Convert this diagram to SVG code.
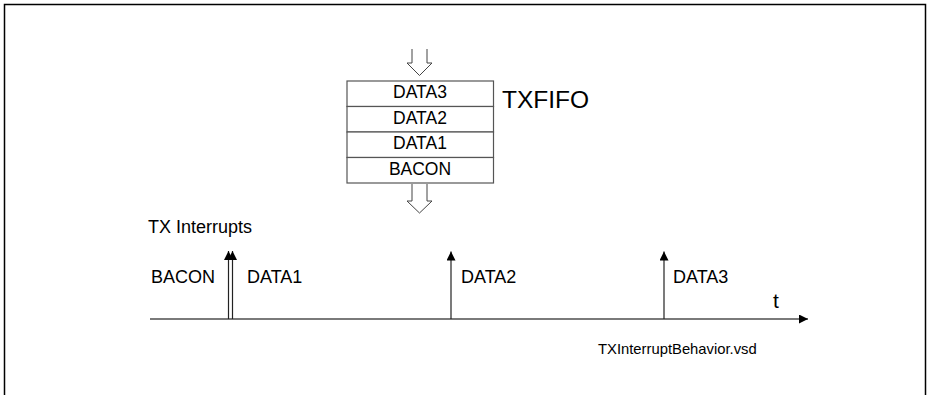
<svg xmlns="http://www.w3.org/2000/svg" width="927" height="395" viewBox="0 0 927 395">
<style>
text{font-family:"Liberation Sans",Arial,sans-serif;fill:#000}
.c{text-anchor:middle;font-size:17.5px}
.l{font-size:18px}
.blk{fill:none;stroke:#444;stroke-width:1}
.row{fill:#fff;stroke:#555;stroke-width:1.2}
.ax{stroke:#7a7a7a;stroke-width:2;fill:none}
.ir{stroke:#222;stroke-width:1.2;fill:none}
</style>
<defs>
<marker id="ah" viewBox="0 0 10 10" refX="10" refY="5" markerWidth="10" markerHeight="9" markerUnits="userSpaceOnUse" orient="auto"><path d="M0,0L10,5L0,10z" fill="#000"/></marker>
<marker id="ah2" viewBox="0 0 10 10" refX="10" refY="5" markerWidth="12" markerHeight="9" markerUnits="userSpaceOnUse" orient="auto"><path d="M0,0L10,5L0,10z" fill="#000"/></marker>
</defs>
<path d="M4.5,395V4.5H925.5V395" fill="none" stroke="#000" stroke-width="1.5"/>
<g id="txfifo">
<rect class="row" x="347" y="81" width="146.5" height="25.5"/>
<rect class="row" x="347" y="106.5" width="146.5" height="25.5"/>
<rect class="row" x="347" y="132" width="146.5" height="25.5"/>
<rect class="row" x="347" y="157.5" width="146.5" height="25.5"/>
<text class="c" x="420" y="98">DATA3</text>
<text class="c" x="420" y="123.5">DATA2</text>
<text class="c" x="420" y="149">DATA1</text>
<text class="c" x="420" y="175">BACON</text>
<text x="502" y="108" font-size="24.5">TXFIFO</text>
</g>
<g id="in-arrow"><path class="blk" d="M412,49V63H407L419.5,75.5L432,63H427V49"/></g>
<g id="out-arrow"><path class="blk" d="M412,184V201H407L419.5,213L432,201H427V184"/></g>
<g id="labels">
<text class="l" x="148" y="233">TX Interrupts</text>
<text class="l" x="151" y="283">BACON</text>
<text class="l" x="247" y="283">DATA1</text>
<text class="l" x="461" y="283">DATA2</text>
<text class="l" x="673" y="283">DATA3</text>
<text x="773" y="308" font-size="21">t</text>
<text x="598" y="354" font-size="14.8">TXInterruptBehavior.vsd</text>
</g>
<g id="connectors">
<line class="ax" x1="150" y1="319" x2="808" y2="319" marker-end="url(#ah2)"/>
<line class="ir" x1="228.5" y1="319" x2="228.5" y2="251" marker-end="url(#ah)"/>
<line class="ir" x1="232.5" y1="319" x2="232.5" y2="251" marker-end="url(#ah)"/>
<line class="ir" x1="451" y1="319" x2="451" y2="251.5" marker-end="url(#ah)"/>
<line class="ir" x1="664" y1="319" x2="664" y2="251.5" marker-end="url(#ah)"/>
</g>
</svg>
